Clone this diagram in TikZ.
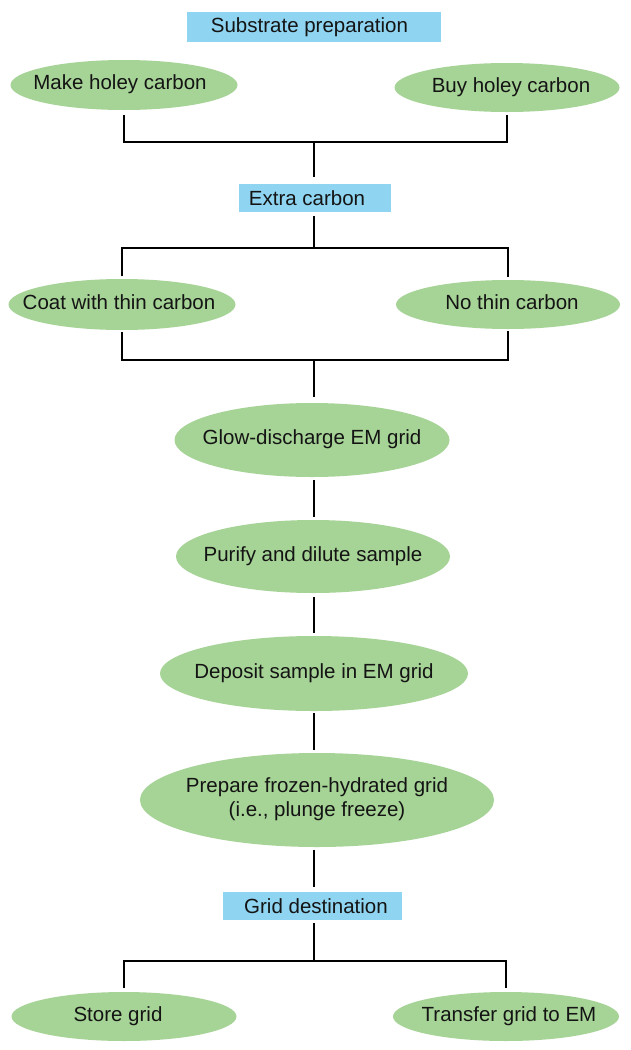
\documentclass[tikz,border=0pt]{standalone}
\usepackage{fontspec}
\setmainfont{Liberation Sans}
\usetikzlibrary{shapes.geometric}
\definecolor{boxblue}{RGB}{143,212,240}
\definecolor{ellgreen}{RGB}{166,211,150}
\definecolor{txt}{RGB}{20,20,20}
\newcommand{\ctxt}[1]{\makebox[0pt][c]{\begin{tabular}{@{}c@{}}#1\end{tabular}}}
\begin{document}
\begin{tikzpicture}[x=1pt,y=-1pt,
  every node/.style={font=\fontsize{20.5}{24}\selectfont, text=txt, inner sep=0pt},
  hdr/.style={rectangle, fill=boxblue, minimum height=28pt},
  oval/.style={ellipse, fill=ellgreen},
  conn/.style={draw=black, line width=2pt}]
\useasboundingbox (0,0) rectangle (630,1050);
\fill[white] (0,0) rectangle (630,1050);

% nodes
\node[hdr, minimum width=254pt, minimum height=30pt] (sub) at (314,27) {Substrate preparation\hspace*{9pt}};
\node[oval, minimum width=227pt, minimum height=50pt] (make) at (124,85) {\ctxt{Make holey carbon\hspace*{8pt}}};
\node[oval, minimum width=225pt, minimum height=49pt] (buy) at (507,87.5) {\ctxt{\hspace*{8pt}Buy holey carbon}};
\node[hdr, minimum width=152pt] (extra) at (315,198) {Extra carbon\hspace*{16pt}};
\node[oval, minimum width=227pt, minimum height=51pt] (coat) at (122,304.5) {\ctxt{Coat with thin carbon\hspace*{6pt}}};
\node[oval, minimum width=224pt, minimum height=49pt] (nothin) at (508,304.5) {\ctxt{\hspace*{8pt}No thin carbon}};
\node[oval, minimum width=275pt, minimum height=74pt] (glow) at (312,440) {\ctxt{Glow-discharge EM grid}};
\node[oval, minimum width=274pt, minimum height=73pt] (purify) at (313,556.5) {\ctxt{Purify and dilute sample}};
\node[oval, minimum width=308pt, minimum height=75pt] (deposit) at (314,673.5) {\ctxt{Deposit sample in EM grid}};
\node[oval, minimum width=354pt, minimum height=94pt] (prepare) at (317,800) {\ctxt{Prepare frozen-hydrated grid\\(i.e., plunge freeze)}};
\node[hdr, minimum width=179pt] (grid) at (312.5,906) {\hspace*{7pt}Grid destination};
\node[oval, minimum width=225pt, minimum height=49pt] (store) at (124,1016.5) {\ctxt{Store grid\hspace*{12pt}}};
\node[oval, minimum width=226pt, minimum height=49pt] (transfer) at (506,1016.5) {\ctxt{\hspace*{6pt}Transfer grid to EM}};

% junctions
\coordinate (j1) at (314,142);
\coordinate (j2) at (314,248);
\coordinate (j3) at (314,360);
\coordinate (j4) at (314,961);

% connectors
\draw[conn, shorten <=5pt, shorten >=3pt] (make.south) |- (j1) -| (buy.south);
\draw[conn, shorten >=7pt] (j1) -- (j1 |- extra.north);
\draw[conn, shorten <=4pt] (extra.south -| j2) -- (j2);
\draw[conn, shorten <=2.5pt, shorten >=3pt] (coat.north) |- (j2) -| (nothin.north);
\draw[conn, shorten <=2pt, shorten >=2pt] (coat.south) |- (j3) -| (nothin.south);
\draw[conn, shorten >=6pt] (j3) -- (j3 |- glow.north);
\draw[conn, shorten <=3pt, shorten >=3pt] (glow.south -| j3) -- (purify.north -| j3);
\draw[conn, shorten <=4pt, shorten >=3pt] (purify.south -| j3) -- (deposit.north -| j3);
\draw[conn, shorten <=2pt, shorten >=3pt] (deposit.south -| j3) -- (prepare.north -| j3);
\draw[conn, shorten <=3pt, shorten >=5pt] (prepare.south -| j4) -- (grid.north -| j4);
\draw[conn, shorten <=3pt] (grid.south -| j4) -- (j4);
\draw[conn, shorten <=4pt, shorten >=4pt] (store.north) |- (j4) -| (transfer.north);
\end{tikzpicture}
\end{document}
